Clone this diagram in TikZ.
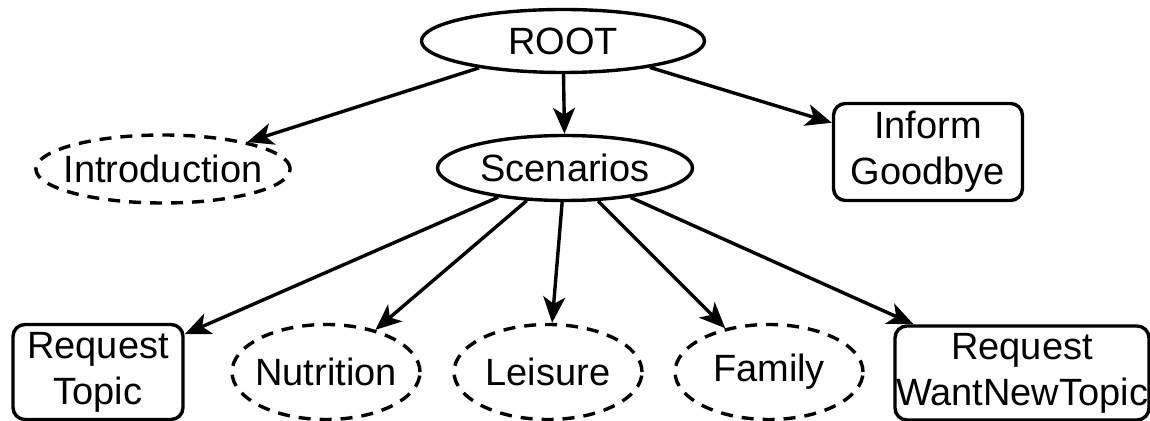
\documentclass[tikz,border=0pt]{standalone}
\usepackage{fontspec}
\setmainfont{Liberation Sans}
\usetikzlibrary{arrows.meta,shapes.geometric}

\begin{document}
\begin{tikzpicture}[x=0.5pt,y=-0.5pt,line width=1.7pt,
    >={Stealth[length=13pt,width=11pt,inset=3.5pt]},
    every node/.style={font=\fontsize{19}{23}\selectfont},
    topic/.style={ellipse,draw,inner sep=0pt},
    subtopic/.style={topic,dash pattern=on 6pt off 4.5pt,inner xsep=-2.5pt,
      minimum width=94pt,minimum height=47.5pt},
    dialogact/.style={rectangle,draw,rounded corners=6pt,
      align=center,inner sep=0pt}]
  \useasboundingbox (0,0) rectangle (1150,421);
  % top level
  \node[topic,minimum width=141.5pt,minimum height=31.5pt]
    (root) at (563,41) {ROOT};
  \node[topic,dash pattern=on 6pt off 4.5pt,inner xsep=-4.7pt,
    minimum width=127pt,minimum height=34pt] (intro) at (163,169) {Introduction};
  \node[topic,minimum width=127.5pt,minimum height=32.5pt]
    (scen) at (565,168) {Scenarios};
  \node[dialogact,minimum width=94.5pt,minimum height=48.5pt]
    (bye) at (928,152) {Inform\\Goodbye};
  % scenarios
  \node[dialogact,minimum width=85pt,minimum height=47.5pt]
    (reqtopic) at (98,372) {Request\\Topic};
  \node[subtopic] (nutri) at (326,372) {Nutrition};
  \node[subtopic] (leisure) at (548,372) {Leisure};
  \node[subtopic] (family) at (769,372) {Family};
  \node[dialogact,minimum width=127pt,minimum height=47pt]
    (reqnew) at (1022,373) {Request\\WantNewTopic};
  % edges
  \draw[->] (root) -- (intro);
  \draw[->] (root) -- (scen);
  \draw[->] (root) -- (bye);
  \draw[->] (scen) -- (reqtopic);
  \draw[->] (scen) -- (nutri);
  \draw[->] (scen) -- (leisure);
  \draw[->] (scen) -- (family);
  \draw[->] (scen) -- (reqnew);
\end{tikzpicture}
\end{document}
